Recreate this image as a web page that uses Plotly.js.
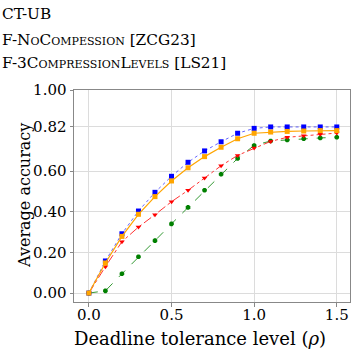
<!DOCTYPE html>
<html>
<head>
<meta charset="utf-8">
<script src="https://cdn.plot.ly/plotly-3.0.1.min.js"></script>
<style>html,body{margin:0;padding:0;background:#fff;}#chart{width:353px;height:350px;}</style>
</head>
<body>
<div id="chart"></div>
<script>
const rho = [0.0,0.1,0.2,0.3,0.4,0.5,0.6,0.7,0.8,0.9,1.0,1.1,1.2,1.3,1.4,1.5];
const ctUB = [0.0,0.158,0.292,0.404,0.496,0.575,0.644,0.700,0.745,0.787,0.811,0.818,0.818,0.818,0.818,0.818];
const fNoComp = [0.0,0.148,0.279,0.388,0.475,0.552,0.617,0.672,0.718,0.760,0.787,0.793,0.796,0.798,0.800,0.800];
const f3Levels = [0.0,0.130,0.253,0.325,0.386,0.450,0.506,0.567,0.627,0.678,0.714,0.747,0.767,0.775,0.782,0.788];
const fOther = [0.0,0.011,0.095,0.179,0.258,0.341,0.422,0.506,0.585,0.663,0.727,0.749,0.754,0.760,0.764,0.767];
const legendLabels = ["CT-UB","F-NoCompession [ZCG23]","F-3CompressionLevels [LS21]"];
const yTickVals = [0.0,0.2,0.4,0.6,0.82,1.0];
const yTickText = ["0.00","0.20","0.40","0.60","0.82","1.00"];
const xTickVals = [0.0,0.5,1.0,1.5];
const xTickText = ["0.0","0.5","1.0","1.5"];
const xTitle = 'Deadline tolerance level (<i>ρ</i>)';
const yTitle = 'Average accuracy';

const FONT = "DejaVu Serif";

const traces = [
  {x: rho, y: fOther, mode:'lines+markers', line:{color:'rgba(0,128,0,0.8)', width:1, dash:'dash'}, marker:{symbol:'octagon', size:5, color:'#008000'}},
  {x: rho, y: f3Levels, mode:'lines+markers', line:{color:'rgba(255,0,0,0.8)', width:1, dash:'dashdot'}, marker:{symbol:'triangle-down', size:5, color:'#ff0000'}},
  {x: rho, y: ctUB, mode:'lines+markers', line:{color:'rgba(0,0,255,0.6)', width:1, dash:'dot'}, marker:{symbol:'square', size:5, color:'#0000ff'}},
  {x: rho, y: fNoComp, mode:'lines+markers', line:{color:'#ffa500', width:1.2}, marker:{symbol:'square', size:5, color:'#ffa500'}}
];

const layout = {
  width: 353, height: 350,
  margin: {l:74, r:3, t:90, b:48},
  showlegend: false,
  paper_bgcolor:'#fff', plot_bgcolor:'#fff',
  font: {family: FONT, color:'#000'},
  xaxis: {
    range:[-0.09,1.58], tickvals: xTickVals, ticktext: xTickText,
    showgrid:true, gridcolor:'#dcdcdc', gridwidth:1,
    showline:true, linecolor:'#888', linewidth:1, mirror:true,
    ticks:'outside', ticklen:3.5, tickcolor:'#888', ticklabelstandoff:-5,
    tickfont:{size:15, family:FONT}, zeroline:false
  },
  yaxis: {
    range:[-0.044,1.0], tickvals: yTickVals, ticktext: yTickText,
    showgrid:true, gridcolor:'#dcdcdc', gridwidth:1,
    showline:true, linecolor:'#888', linewidth:1, mirror:true,
    ticks:'outside', ticklen:3.5, tickcolor:'#888',
    tickfont:{size:15, family:FONT}, zeroline:false
  },
  annotations: [
    {xref:'paper', yref:'paper', x:(200-74)/276, y:0, yshift:-36, xanchor:'center', yanchor:'middle', showarrow:false,
     text:xTitle, font:{size:18, family:FONT}},
    {xref:'paper', yref:'paper', x:0, xshift:-50, y:0.5, xanchor:'center', yanchor:'middle', textangle:-90, showarrow:false,
     text:yTitle, font:{size:16, family:FONT}},
    {xref:'paper', yref:'paper', x:0, xshift:-74, y:1, yshift:90-14, xanchor:'left', yanchor:'middle', showarrow:false,
     text:legendLabels[0], font:{size:15.3, family:FONT, variant:'small-caps'}},
    {xref:'paper', yref:'paper', x:0, xshift:-74, y:1, yshift:90-40, xanchor:'left', yanchor:'middle', showarrow:false,
     text:legendLabels[1], font:{size:15.3, family:FONT, variant:'small-caps'}},
    {xref:'paper', yref:'paper', x:0, xshift:-74, y:1, yshift:90-63, xanchor:'left', yanchor:'middle', showarrow:false,
     text:legendLabels[2], font:{size:15.3, family:FONT, variant:'small-caps'}}
  ]
};

Plotly.newPlot('chart', traces, layout, {displayModeBar:false, staticPlot:true});
</script>
</body>
</html>
